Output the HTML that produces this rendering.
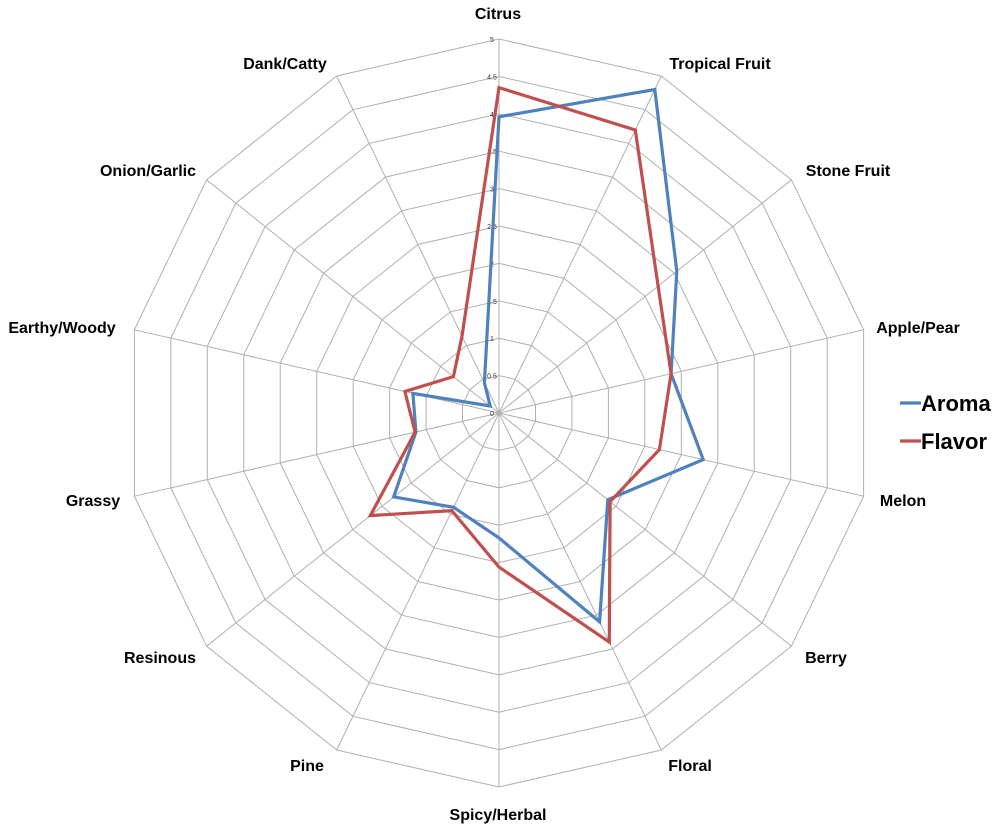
<!DOCTYPE html>
<html><head><meta charset="utf-8"><style>
html,body{margin:0;padding:0;background:#fff;width:1000px;height:830px;overflow:hidden}
svg{display:block}
text{font-family:"Liberation Sans",sans-serif}
</style></head><body>
<svg id="s" width="1000" height="830" viewBox="0 0 1000 830" xmlns="http://www.w3.org/2000/svg"></svg>
<script>
const s=document.getElementById('s');
const cx=499,cy=413,U=74.8,N=14;
const labels=["Citrus","Tropical Fruit","Stone Fruit","Apple/Pear","Melon","Berry","Floral","Spicy/Herbal","Pine","Resinous","Grassy","Earthy/Woody","Onion/Garlic","Dank/Catty"];
const lp=[[498,14],[720,64],[848,171],[918,328],[903,501],[826,658],[690,766],[498,815],[307,766],[160,658],[93,501],[62,328],[148,171],[285,64]];
const aroma=[3.96,4.8,3.04,2.36,2.8,1.86,3.1,1.67,1.4,1.8,1.14,1.18,0.15,0.45];
const flavor=[4.35,4.2,2.72,2.36,2.2,1.9,3.4,2.06,1.45,2.2,1.15,1.29,0.78,1.14];
function pt(i,v){const a=i*2*Math.PI/N;return [cx+Math.sin(a)*v*U,cy-Math.cos(a)*v*U];}
let h='';
for(let k=1;k<=10;k++){let p=[];for(let i=0;i<N;i++)p.push(pt(i,k*0.5).map(n=>n.toFixed(1)).join(','));
h+=`<polygon points="${p.join(' ')}" fill="none" stroke="#b0b0b0" stroke-width="1"/>`;}
for(let i=0;i<N;i++){const [x,y]=pt(i,5);h+=`<line x1="${cx}" y1="${cy}" x2="${x.toFixed(1)}" y2="${y.toFixed(1)}" stroke="#b0b0b0" stroke-width="1"/>`;}
for(let k=0;k<=10;k++){const v=k*0.5;h+=`<text x="${cx-7}" y="${(cy-v*U+3).toFixed(1)}" font-size="7" text-anchor="middle" fill="#333">${v}</text>`;}
function poly(d,c){let p=d.map((v,i)=>pt(i,v).map(n=>n.toFixed(1)).join(','));return `<polygon points="${p.join(' ')}" fill="none" stroke="${c}" stroke-width="3.2" stroke-linejoin="miter"/>`;}
h+=poly(aroma,'#4F81BD');h+=poly(flavor,'#C0504D');
labels.forEach((l,i)=>{h+=`<text x="${lp[i][0]}" y="${lp[i][1]+5}" font-size="16" font-weight="bold" text-anchor="middle" fill="#000">${l}</text>`;});
h+=`<line x1="900" y1="403" x2="921" y2="403" stroke="#4F81BD" stroke-width="3.2"/><text x="921" y="411" font-size="22" font-weight="bold" fill="#000">Aroma</text>`;
h+=`<line x1="900" y1="441" x2="921" y2="441" stroke="#C0504D" stroke-width="3.2"/><text x="921" y="449" font-size="22" font-weight="bold" fill="#000">Flavor</text>`;
s.innerHTML=h;
</script>
</body></html>
